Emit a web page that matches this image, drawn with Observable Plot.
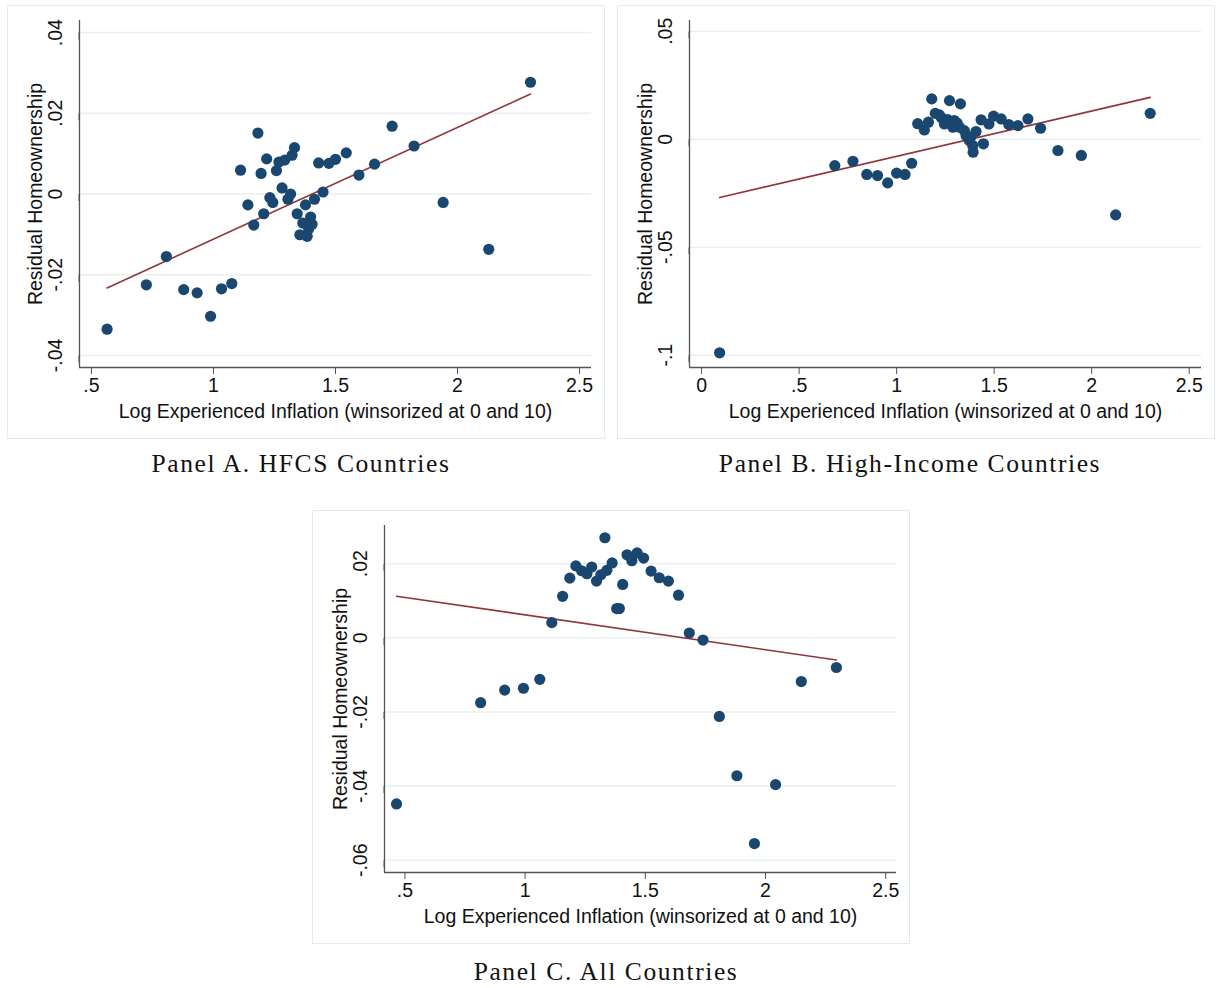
<!DOCTYPE html>
<html><head><meta charset="utf-8">
<script src="https://cdn.jsdelivr.net/npm/d3@7"></script>
<script src="https://cdn.jsdelivr.net/npm/@observablehq/plot@0.6"></script>
<style>
body{margin:0;background:#fff;width:1219px;height:988px;position:relative;overflow:hidden}
.box{position:absolute;width:598px;height:434px;border:1px solid #e3ebed;box-sizing:border-box}
.plot{position:absolute}
.cap{position:absolute;font-family:"Liberation Serif","Times New Roman",serif;font-size:25.5px;letter-spacing:1.6px;color:#111;transform:translateX(-50%);white-space:nowrap;line-height:30px}
</style></head><body>
<div class="box" style="left:7px;top:5px"></div>
<div class="box" style="left:617px;top:5px"></div>
<div class="box" style="left:312px;top:510px"></div>
<div class="plot" id="pA" style="left:7px;top:5px"></div>
<div class="plot" id="pB" style="left:617px;top:5px"></div>
<div class="plot" id="pC" style="left:312px;top:510px"></div>
<div class="cap" id="capA" style="left:301px;top:449px"></div>
<div class="cap" id="capB" style="left:910px;top:449px"></div>
<div class="cap" id="capC" style="left:606px;top:957px"></div>
<script>
// ---------- Data ----------
const captions = ["Panel A. HFCS Countries", "Panel B. High-Income Countries", "Panel C. All Countries"];
const yTitle = "Residual Homeownership";
const xTitle = "Log Experienced Inflation (winsorized at 0 and 10)";

const aX = [0.564,0.725,0.807,0.878,0.933,0.988,1.033,1.075,1.111,1.141,1.165,1.182,1.195,1.206,1.218,1.231,1.243,1.258,1.268,1.281,1.292,1.305,1.316,1.322,1.332,1.343,1.354,1.366,1.377,1.384,1.398,1.404,1.390,1.414,1.431,1.449,1.473,1.500,1.544,1.596,1.660,1.732,1.822,1.941,2.128,2.299];
const aY = [-0.0335,-0.0225,-0.0155,-0.0237,-0.0245,-0.0303,-0.0235,-0.0222,0.0059,-0.0027,-0.0077,0.0151,0.0051,-0.0049,0.0087,-0.0009,-0.0021,0.0058,0.0079,0.0015,0.0084,-0.0013,0.0000,0.0096,0.0115,-0.0049,-0.0101,-0.0072,-0.0027,-0.0105,-0.0057,-0.0075,-0.0087,-0.0013,0.0077,0.0005,0.0076,0.0086,0.0102,0.0047,0.0074,0.0168,0.0119,-0.0021,-0.0137,0.0277];
const aFit = {slope: 0.0277, intercept: -0.0389};

const bX = [0.0925,0.683,0.776,0.847,0.902,0.954,1.000,1.043,1.077,1.108,1.142,1.163,1.180,1.198,1.219,1.230,1.245,1.262,1.271,1.288,1.296,1.310,1.327,1.322,1.347,1.356,1.373,1.380,1.390,1.392,1.407,1.433,1.445,1.473,1.497,1.536,1.575,1.622,1.673,1.738,1.827,1.947,2.123,2.300];
const bY = [-0.0989,-0.0122,-0.0102,-0.0163,-0.0168,-0.0202,-0.0157,-0.0163,-0.0111,0.0072,0.0043,0.0079,0.0187,0.0120,0.0113,0.0100,0.0071,0.0091,0.0179,0.0056,0.0087,0.0075,0.0164,0.0056,0.0040,0.0017,-0.0006,0.0010,-0.0029,-0.0060,0.0036,0.0090,-0.0021,0.0071,0.0107,0.0094,0.0068,0.0063,0.0094,0.0051,-0.0052,-0.0075,-0.0350,0.0120];
const bFit = {slope: 0.0210, intercept: -0.0289};

const cX = [0.465,0.815,0.915,0.993,1.061,1.111,1.156,1.186,1.211,1.235,1.257,1.277,1.297,1.315,1.332,1.340,1.362,1.381,1.392,1.406,1.424,1.444,1.466,1.493,1.524,1.558,1.596,1.638,1.683,1.740,1.808,1.881,1.954,2.042,2.149,2.295];
const cY = [-0.0448,-0.0175,-0.0141,-0.0136,-0.0112,0.0041,0.0112,0.0161,0.0194,0.0181,0.0173,0.0191,0.0153,0.0170,0.0270,0.0182,0.0202,0.0079,0.0079,0.0144,0.0224,0.0208,0.0229,0.0215,0.0180,0.0162,0.0153,0.0115,0.0013,-0.0006,-0.0212,-0.0372,-0.0555,-0.0396,-0.0118,-0.0080];
const cFit = {slope: -0.0094, intercept: 0.0156};

const xTicksA = [0.5,1,1.5,2,2.5], xLabelsA = [".5","1","1.5","2","2.5"];
const xTicksB = [0,0.5,1,1.5,2,2.5], xLabelsB = ["0",".5","1","1.5","2","2.5"];
const yTicksA = [0.04,0.02,0,-0.02,-0.04], yLabelsA = [".04",".02","0","-.02","-.04"];
const yTicksB = [0.05,0,-0.05,-0.1], yLabelsB = [".05","0","-.05","-.1"];
const yTicksC = [0.02,0,-0.02,-0.04,-0.06], yLabelsC = [".02","0","-.02","-.04","-.06"];

// ---------- Drawing ----------
const dotColor = "#1a476f", lineColor = "#90353b", axisColor = "#555", gridColor = "#e8f0f1";
const font = "'Liberation Sans', Arial, Helvetica, sans-serif";

function panel(xs, ys, fit, xDomain, yDomain, xTicks, xLabels, yTicks, yLabels) {
  const pts = xs.map((x, i) => ({x, y: ys[i]}));
  const fitPts = [d3.min(xs), d3.max(xs)].map(x => ({x, y: fit.intercept + fit.slope * x}));
  return Plot.plot({
    width: 598, height: 434,
    marginLeft: 72, marginTop: 15, marginRight: 14, marginBottom: 72,
    x: {domain: xDomain},
    y: {domain: yDomain},
    style: {fontFamily: font, fontSize: "19.5px", color: "#111", background: "transparent", overflow: "visible"},
    marks: [
      Plot.gridY(yTicks, {stroke: gridColor, strokeOpacity: 1, strokeWidth: 1.5}),
      Plot.axisX(xTicks, {tickSize: 7, tickPadding: 4, stroke: axisColor, tickFormat: d => xLabels[xTicks.indexOf(d)], label: null, fontSize: 19.5}),
      Plot.axisY(yTicks, {tickSize: 7, tickPadding: 17, stroke: axisColor, tickFormat: d => yLabels[yTicks.indexOf(d)], rotate: -90, textAnchor: "middle", label: null, fontSize: 19.5}),
      Plot.ruleX([xDomain[0]], {stroke: axisColor, strokeWidth: 1.3}),
      Plot.ruleY([yDomain[0]], {stroke: axisColor, strokeWidth: 1.3}),
      Plot.line(fitPts, {x: "x", y: "y", stroke: lineColor, strokeWidth: 1.6}),
      Plot.dot(pts, {x: "x", y: "y", r: 5.6, fill: dotColor, stroke: "none"}),
      Plot.text([yTitle], {frameAnchor: "left", dx: -44, rotate: -90, textAnchor: "middle", lineAnchor: "middle", fontSize: 19.5, fill: "#111"}),
      Plot.text([xTitle], {frameAnchor: "bottom", dy: 44, textAnchor: "middle", lineAnchor: "middle", fontSize: 19.5, fill: "#111"})
    ]
  });
}

document.getElementById("pA").append(panel(aX, aY, aFit, [0.451, 2.549], [-0.043, 0.043], xTicksA, xLabelsA, yTicksA, yLabelsA));
document.getElementById("pB").append(panel(bX, bY, bFit, [-0.062, 2.563], [-0.1057, 0.055], xTicksB, xLabelsB, yTicksB, yLabelsB));
document.getElementById("pC").append(panel(cX, cY, cFit, [0.415, 2.545], [-0.0633, 0.0303], xTicksA, xLabelsA, yTicksC, yLabelsC));
document.getElementById("capA").textContent = captions[0];
document.getElementById("capB").textContent = captions[1];
document.getElementById("capC").textContent = captions[2];
</script>
</body></html>
